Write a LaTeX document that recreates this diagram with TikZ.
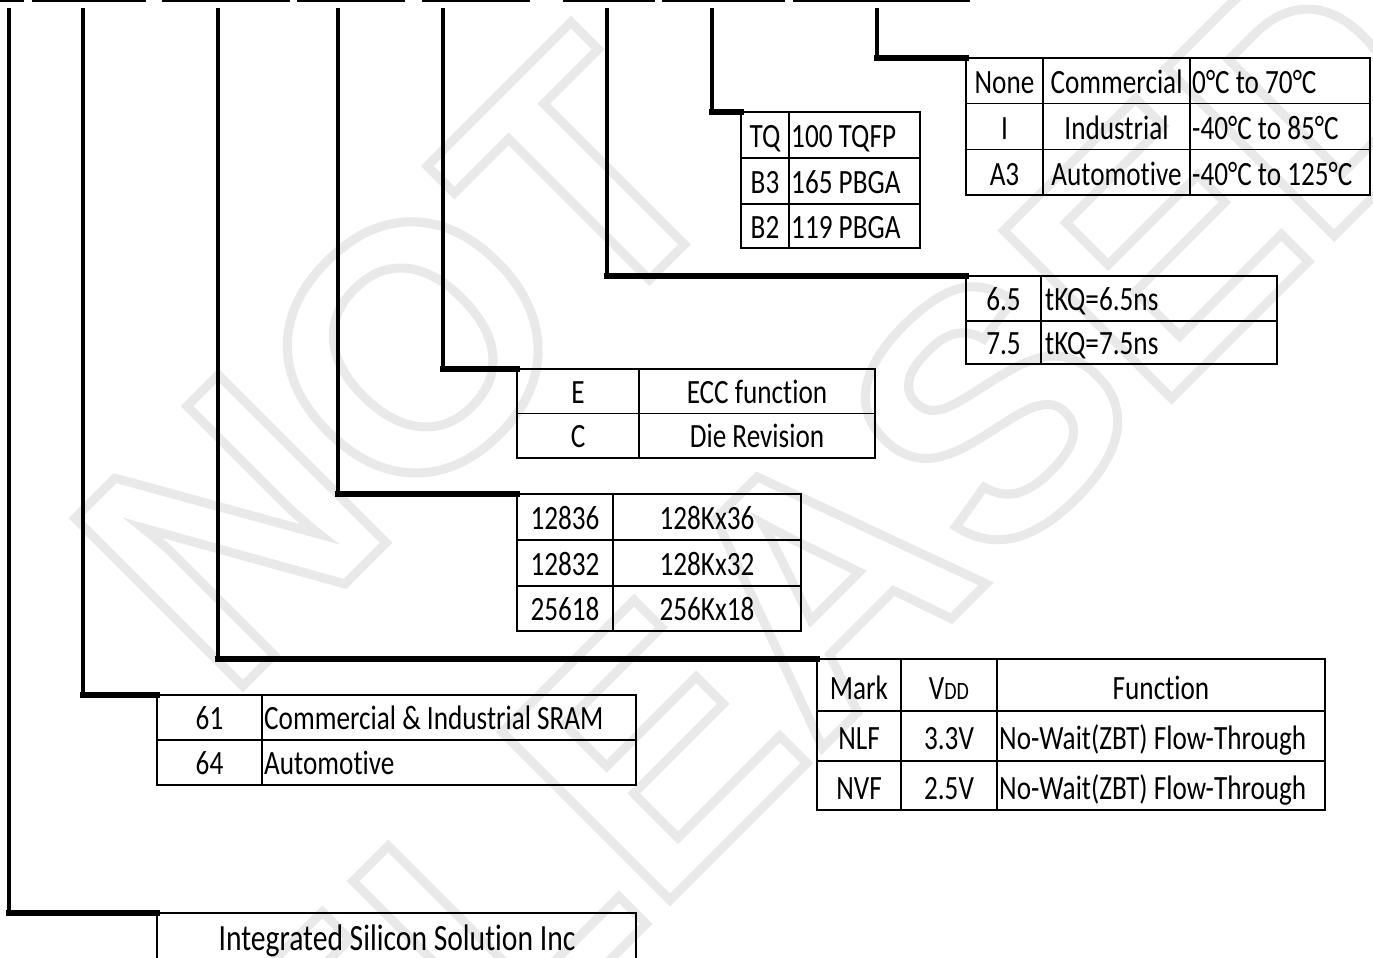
\documentclass[tikz,border=0pt]{standalone}
\usepackage{fontspec}
\setmainfont{Carlito}[FakeStretch=0.8, Ligatures=NoCommon]
\newfontfamily\wmfont{Liberation Sans}
\definecolor{wm}{RGB}{233,233,233}
\newcommand\tabfont{\fontsize{34}{40}\selectfont}
\newcommand\bigtabfont{\fontsize{37}{44}\selectfont}
\newcommand\wmoutline{\special{pdf:literal direct 1 Tr 9 w}}
\tikzset{
  x=1pt, y=-1pt,
  tbl/.style={draw, line width=1.6pt, inner sep=0pt, outer sep=0pt, anchor=north west},
  gridline/.style={line width=1.6pt},
  cell/.style={inner sep=0pt, anchor=base, font=\tabfont},
  cellL/.style={cell, anchor=base west},
  vconn/.style={line width=4.2pt},
  hconn/.style={line width=5.5pt, line cap=rect},
  topbar/.style={line width=2.5pt},
  wmtext/.style={transform shape, inner sep=0pt, text=wm, rotate=45, font=\wmfont\bfseries\fontsize{345}{345}\selectfont},
}
\begin{document}
\begin{tikzpicture}
\useasboundingbox (0,0) rectangle (1373,958);
\clip (0,0) rectangle (1373,958);
\fill[white] (0,0) rectangle (1373,958);
% watermark
\node[wmtext] (wmNOT) at (400,361) {\wmoutline NOT};
\node[wmtext] (wmREL) at (746,656) {\wmoutline RELEASED};
% top bars
\foreach \a/\b in {0/24,32/146,162/290,297/405,422/530,563/655,662/785,793/970}
  \draw[topbar] (\a,1.25) -- (\b,1.25);

% ---- tables ----
% temperature grade
\node[tbl, minimum width=404pt, minimum height=137pt] (tTemp) at (966,58) {};
\draw[gridline] (1043,58) -- (1043,195) (1190,58) -- (1190,195)
  (966,103.5) -- (1370,103.5) (966,149.5) -- (1370,149.5);
\node[cell] (tT11) at (1004.5,93) {None};
\node[cell] (tT12) at (1116.5,93) {Commercial};
\node[cellL] (tT13) at (1192,93) {0°C to 70°C};
\node[cell] (tT21) at (1004.5,139) {I};
\node[cell] (tT22) at (1116.5,139) {Industrial};
\node[cellL] (tT23) at (1192,139) {-40°C to 85°C};
\node[cell] (tT31) at (1004.5,185) {A3};
\node[cell] (tT32) at (1116.5,185) {Automotive};
\node[cellL] (tT33) at (1192,185) {-40°C to 125°C};

% package
\node[tbl, minimum width=179pt, minimum height=136pt] (tPkg) at (741,112) {};
\draw[gridline] (789,112) -- (789,248) (741,158) -- (920,158) (741,204) -- (920,204);
\node[cell] (tP11) at (765,147) {TQ};
\node[cellL] (tP12) at (791,147) {100 TQFP};
\node[cell] (tP21) at (765,193) {B3};
\node[cellL] (tP22) at (791,193) {165 PBGA};
\node[cell] (tP31) at (765,238) {B2};
\node[cellL] (tP32) at (791,238) {119 PBGA};

% speed
\node[tbl, minimum width=311pt, minimum height=88pt] (tSpd) at (966,276) {};
\draw[gridline] (1041,276) -- (1041,364) (966,321) -- (1277,321);
\node[cell] (tS11) at (1003.5,310.5) {6.5};
\node[cellL] (tS12) at (1045,310.5) {tKQ=6.5ns};
\node[cell] (tS21) at (1003.5,354.5) {7.5};
\node[cellL] (tS22) at (1045,354.5) {tKQ=7.5ns};

% ECC / die revision
\node[tbl, minimum width=358pt, minimum height=89pt] (tEcc) at (517,369) {};
\draw[gridline] (639,369) -- (639,458) (517,413.5) -- (875,413.5);
\node[cell] (tE11) at (578,403) {E};
\node[cell] (tE12) at (757,403) {ECC function};
\node[cell] (tE21) at (578,447.5) {C};
\node[cell] (tE22) at (757,447.5) {Die Revision};

% organisation
\node[tbl, minimum width=284pt, minimum height=137pt] (tOrg) at (517,494) {};
\draw[gridline] (613,494) -- (613,631) (517,540) -- (801,540) (517,586) -- (801,586);
\node[cell] (tO11) at (565,529) {12836};
\node[cell] (tO12) at (707,529) {128Kx36};
\node[cell] (tO21) at (565,575) {12832};
\node[cell] (tO22) at (707,575) {128Kx32};
\node[cell] (tO31) at (565,620.5) {25618};
\node[cell] (tO32) at (707,620.5) {256Kx18};

% mark / VDD / function
\node[tbl, minimum width=508pt, minimum height=151pt] (tMark) at (817,659) {};
\draw[gridline] (901,659) -- (901,810) (997,659) -- (997,810)
  (817,711) -- (1325,711) (817,761) -- (1325,761);
\node[cell] (tM11) at (859,699) {Mark};
\node[cell] (tM12) at (949,699) {V{\fontsize{25}{25}\selectfont DD}};
\node[cell] (tM13) at (1161,699) {Function};
\node[cell] (tM21) at (859,749) {NLF};
\node[cell] (tM22) at (949,749) {3.3V};
\node[cellL] (tM23) at (999,749) {No-Wait(ZBT) Flow-Through};
\node[cell] (tM31) at (859,799) {NVF};
\node[cell] (tM32) at (949,799) {2.5V};
\node[cellL] (tM33) at (999,799) {No-Wait(ZBT) Flow-Through};

% product family
\node[tbl, minimum width=479pt, minimum height=90pt] (tFam) at (157,695) {};
\draw[gridline] (262,695) -- (262,785) (157,740) -- (636,740);
\node[cell] (tF11) at (209.5,729.5) {61};
\node[cellL] (tF12) at (264,729.5) {Commercial \& Industrial SRAM};
\node[cell] (tF21) at (209.5,774.5) {64};
\node[cellL] (tF22) at (264,774.5) {Automotive};

% company
\node[tbl, minimum width=479pt, minimum height=50pt] (tIssi) at (157,913) {};
\node[cell, font=\bigtabfont] (tI) at (397,950) {Integrated Silicon Solution Inc};

% ---- connectors ----
\coordinate (p1) at (9,8);
\coordinate (p2) at (83,8);
\coordinate (p3) at (218,8);
\coordinate (p4) at (338,8);
\coordinate (p5) at (443,8);
\coordinate (p6) at (607,8);
\coordinate (p7) at (712,8);
\coordinate (p8) at (877,8);
\foreach \p/\t in {p1/tIssi,p2/tFam,p3/tMark,p4/tOrg,p5/tEcc,p6/tSpd,p7/tPkg,p8/tTemp}{
  \draw[vconn] (\p) -- (\p |- \t.north west);
  \draw[hconn] (\p |- \t.north west) -- (\t.north west);
}
\end{tikzpicture}
\end{document}
